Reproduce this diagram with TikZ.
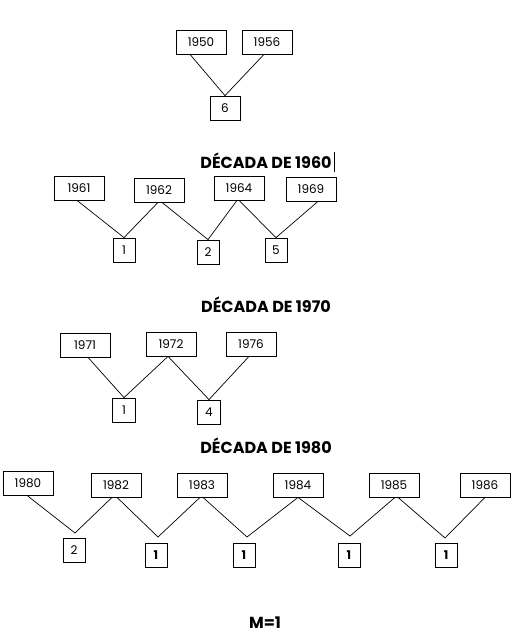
\documentclass[tikz,border=0pt]{standalone}
\usepackage{fontspec}
\setmainfont{Poppins}
\begin{document}
\begin{tikzpicture}[x=1pt,y=-1pt,
  yearbox/.style={draw,line width=0.8pt,minimum width=50pt,minimum height=24pt,inner sep=0pt,font=\fontsize{12}{14}\selectfont},
  countbox/.style={draw,line width=0.8pt,minimum width=22pt,minimum height=24pt,inner sep=0pt,font=\fontsize{12}{14}\selectfont},
  boldcount/.style={countbox,font=\fontsize{12}{14}\selectfont\bfseries},
  title/.style={inner sep=0pt,font=\fontsize{16}{18}\selectfont\bfseries},
  link/.style={line width=0.7pt}]
\useasboundingbox (0,0) rectangle (514,639);
% 1950s
\node[yearbox] (a50) at (201,42) {1950};
\node[yearbox] (a56) at (267,42) {1956};
\node[countbox,minimum width=30pt] (c6) at (225,108) {6};
\draw[link] ([xshift=-11pt]a50.south) -- (c6.north);
\draw[link] ([xshift=-3pt]a56.south) -- (c6.north);
% 1960s
\node[title] (t60) at (266,161) {DÉCADA DE 1960};
\draw[line width=0.6pt] (334,152) -- (334,172);
\node[yearbox] (a61) at (79,188) {1961};
\node[yearbox] (a62) at (159,190) {1962};
\node[yearbox] (a64) at (239,188) {1964};
\node[yearbox] (a69) at (311,189) {1969};
\node[countbox] (c1) at (124,250) {1};
\node[countbox] (c2) at (208,252) {2};
\node[countbox] (c5) at (276,250) {5};
\draw[link] ([xshift=-2pt]a61.south) -- (c1.north);
\draw[link] ([xshift=-1pt]a62.south) -- (c1.north);
\draw[link] ([xshift=3pt]a62.south) -- (c2.north);
\draw[link] ([xshift=-2pt]a64.south) -- (c2.north);
\draw[link] ([xshift=0pt]a64.south) -- (c5.north);
\draw[link] ([xshift=7pt]a69.south) -- (c5.north);
% 1970s
\node[title] (t70) at (266,305) {DÉCADA DE 1970};
\node[yearbox] (a71) at (85,345) {1971};
\node[yearbox] (a72) at (171,344) {1972};
\node[yearbox] (a76) at (251,344) {1976};
\node[countbox,minimum width=23pt] (d1) at (124,410) {1};
\node[countbox,minimum width=23pt] (d4) at (209,412) {4};
\draw[link] ([xshift=3pt]a71.south) -- (d1.north);
\draw[link] ([xshift=-3pt]a72.south) -- (d1.north);
\draw[link] ([xshift=-3pt]a72.south) -- (d4.north);
\draw[link] ([xshift=-2pt]a76.south) -- (d4.north);
% 1980s
\node[title] (t80) at (266,446) {DÉCADA DE 1980};
\node[yearbox] (a80) at (28,483) {1980};
\node[yearbox] (a82) at (116,485) {1982};
\node[yearbox] (a83) at (202,485) {1983};
\node[yearbox] (a84) at (298,485) {1984};
\node[yearbox] (a85) at (394,485) {1985};
\node[yearbox] (a86) at (485,485) {1986};
\node[countbox] (e2) at (74,550) {2};
\node[boldcount] (e1a) at (156,555) {1};
\node[boldcount] (e1b) at (244,555) {1};
\node[boldcount] (e1c) at (349,555) {1};
\node[boldcount] (e1d) at (446,555) {1};
\coordinate (v1) at (75,533);
\coordinate (v2) at (158,537);
\coordinate (v3) at (247,537);
\coordinate (v4) at (350,536);
\coordinate (v5) at (445,538);
\draw[link] ([xshift=-1pt]a80.south) -- (v1);
\draw[link] ([xshift=-4pt]a82.south) -- (v1);
\draw[link] ([xshift=1pt]a82.south) -- (v2);
\draw[link] ([xshift=-2pt]a83.south) -- (v2);
\draw[link] ([xshift=1pt]a83.south) -- (v3);
\draw[link] (a84.south) -- (v3);
\draw[link] (a84.south) -- (v4);
\draw[link] ([xshift=1pt]a85.south) -- (v4);
\draw[link] ([xshift=4pt]a85.south) -- (v5);
\draw[link] (a86.south) -- (v5);
% result
\node[title] (m) at (265,623) {M=1};
\end{tikzpicture}
\end{document}
